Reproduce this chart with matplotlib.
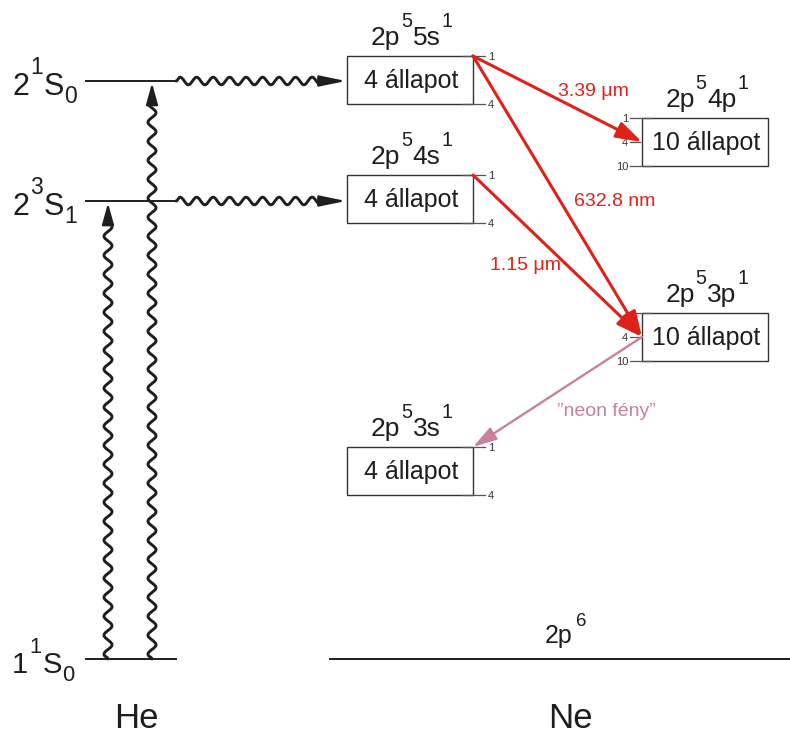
import numpy as np
import matplotlib
matplotlib.use("Agg")
import matplotlib.pyplot as plt
from matplotlib.patches import Rectangle

plt.rcParams['font.family'] = ['Liberation Sans', 'DejaVu Sans']

# ---- data (vertical level positions on the diagram's energy axis, top = high) ----
he_terms = [('2', '1', 'S', '0'), ('2', '3', 'S', '1'), ('1', '1', 'S', '0')]
he_level = [81, 201, 659]

ne_configs = [('2p', '5', '5s', '1'), ('2p', '5', '4s', '1'), ('2p', '5', '4p', '1'),
              ('2p', '5', '3p', '1'), ('2p', '5', '3s', '1')]
ne_top = [56, 175, 118, 313, 447]
ne_states = [4, 4, 10, 10, 4]
ne_column = ['s', 's', 'p', 'p', 's']
ne_ground_config = ('2p', '6')
ne_ground = 659

# laser transitions: from box index -> to box index
laser_from = [0, 0, 1]
laser_to = [2, 3, 3]
laser_labels = ['3.39 μm', '632.8 nm', '1.15 μm']
neon_from, neon_to = 3, 4
neon_label = '”neon fény”'

RED = '#df2219'
PINK = '#c7819d'
INK = '#1e1e1e'
BOX_H = 48

fig = plt.figure(figsize=(7.9, 7.38), dpi=100)
ax = fig.add_axes([0, 0, 1, 1])
ax.set_xlim(0, 790)
ax.set_ylim(738, 0)
ax.axis('off')
R = fig.canvas.get_renderer()

col_x = {'s': (347, 473), 'p': (642, 768)}


def rich(x, y, pieces, fs, ha='left', color=INK, scale=0.75, sup_gap=0.5):
    """pieces: list of (text, kind) with kind in n / sup / sub; y is main baseline."""
    px = fs * 100 / 72
    items = []
    for s, kind in pieces:
        f = fs if kind == 'n' else fs * scale
        t = ax.text(0, 0, s, fontsize=f, color=color, va='baseline', ha='left')
        w = t.get_window_extent(R).width
        items.append((t, kind, w))
    pos = []
    cur = 0.0
    for t, kind, w in items:
        if kind == 'sup':
            cur += sup_gap
        pos.append(cur)
        cur += w + 0.5
    total = cur
    x0 = x - total / 2 if ha == 'center' else x
    for (t, kind, w), p in zip(items, pos):
        dy = 0
        if kind == 'sup':
            dy = -0.70 * px
        elif kind == 'sub':
            dy = 0.27 * px
        t.set_position((x0 + p, y + dy))


def wavy(x0, y0, x1, y1, period, amp, head=18, hl=1.45, hw=0.36):
    d = np.array([x1 - x0, y1 - y0], float)
    L = np.hypot(*d)
    u = d / L
    n = np.array([u[1], -u[0]])
    wl = L - head
    t = np.linspace(0, wl, 800)
    env = np.clip(t / 3, 0, 1) * np.clip((wl - t) / 4, 0, 1)
    off = amp * np.sin(2 * np.pi * t / period) * env
    px = x0 + u[0] * t + n[0] * off
    py = y0 + u[1] * t + n[1] * off
    ax.plot(px, py, color=INK, lw=2.1, solid_capstyle='round', solid_joinstyle='round')
    sx, sy = x0 + u[0] * (wl - 2), y0 + u[1] * (wl - 2)
    ax.annotate('', xy=(x1, y1), xytext=(sx, sy),
                arrowprops=dict(arrowstyle=f'-|>,head_length={hl},head_width={hw}',
                                color=INK, lw=1.6, shrinkA=0, shrinkB=0,
                                mutation_scale=10))


# ---- He levels ----
for (a, b, c, d), y in zip(he_terms, he_level):
    ax.plot([86, 176], [y, y], color=INK, lw=1.4)
    fs = 21 if y == he_level[2] else 22
    rich(12, y + 14, [(a, 'n'), (b, 'sup'), (c, 'n'), (d, 'sub')], fs, sup_gap=1)

ax.text(136, 728, 'He', fontsize=25, ha='center', va='baseline', color=INK)
ax.text(570, 728, 'Ne', fontsize=25, ha='center', va='baseline', color=INK)

# ---- Ne ground ----
ax.plot([330, 790], [ne_ground, ne_ground], color=INK, lw=1.4)
rich(566, 643, [(ne_ground_config[0], 'n'), (ne_ground_config[1], 'sup')], 18, ha='center',
     sup_gap=3)

# ---- Ne boxes ----
for i, (cfg, top, n, c) in enumerate(zip(ne_configs, ne_top, ne_states, ne_column)):
    x0, x1 = col_x[c]
    ax.add_patch(Rectangle((x0, top), x1 - x0, BOX_H, fill=False, ec='#333333', lw=1.0))
    ax.text((x0 + x1) / 2 + 1, top + BOX_H / 2 + 1, f'{n} állapot', fontsize=18,
            ha='center', va='center', color=INK)
    rich((x0 + x1) / 2 + 2, top - 11,
         [(cfg[0], 'n'), (cfg[1], 'sup'), (cfg[2], 'n'), (cfg[3], 'sup')], 19, ha='center')
    if c == 's':
        for y, t in [(top, '1'), (top + BOX_H, str(n))]:
            ax.plot([x1 - 10, x1 + 12], [y, y], color='#555555', lw=0.9)
            ax.text(x1 + 15, y + 1, t, fontsize=8, ha='left', va='center', color='#333333')
    else:
        for y, t, xe in [(top, '1', x0 + 10), (top + BOX_H / 2, '4', x0 - 2),
                         (top + BOX_H, '10', x0 + 10)]:
            ax.plot([x0 - 12, xe], [y, y], color='#555555', lw=0.9)
            ax.text(x0 - 14, y + 1, t, fontsize=8, ha='right', va='center', color='#333333')

# ---- He -> Ne energy transfer (wavy) ----
wavy(176, he_level[0], 346, he_level[0], 16.5, 3.8, head=22, hl=1.6, hw=0.33)
wavy(176, he_level[1], 346, he_level[1], 16.5, 3.8, head=22, hl=1.6, hw=0.33)
# excitation of He from ground state
wavy(108, he_level[2], 108, he_level[1] + 2, 19, 4.0, head=18, hl=1.3, hw=0.36)
wavy(152, he_level[2], 152, he_level[0] + 2, 19, 4.0, head=18, hl=1.3, hw=0.36)


# ---- laser transitions ----
def anchor(i):
    c = ne_column[i]
    x0, x1 = col_x[c]
    if c == 's':
        return x1, ne_top[i]
    return x0, ne_top[i] + BOX_H / 2


label_pos = [(593, 91), (615, 201), (526, 266)]
for f, t, lab, (lx, ly) in zip(laser_from, laser_to, laser_labels, label_pos):
    xs, ys = anchor(f)
    xe, ye = anchor(t)
    ax.annotate('', xy=(xe, ye), xytext=(xs, ys),
                arrowprops=dict(arrowstyle='-|>,head_length=1.3,head_width=0.42',
                                color=RED, lw=2.2, shrinkA=0, shrinkB=0, mutation_scale=12))
    ax.text(lx, ly, lab, fontsize=14, color=RED, ha='center', va='center')

# neon light
xs, ys = anchor(neon_from)
xe, ye = anchor(neon_to)
ax.annotate('', xy=(xe, ye), xytext=(xs, ys),
            arrowprops=dict(arrowstyle='-|>,head_length=1.2,head_width=0.35',
                            color=PINK, lw=1.7, shrinkA=0, shrinkB=0, mutation_scale=12))
ax.text(606, 411, neon_label, fontsize=14, color=PINK, ha='center', va='center')

fig.savefig('out.png', dpi=100)
